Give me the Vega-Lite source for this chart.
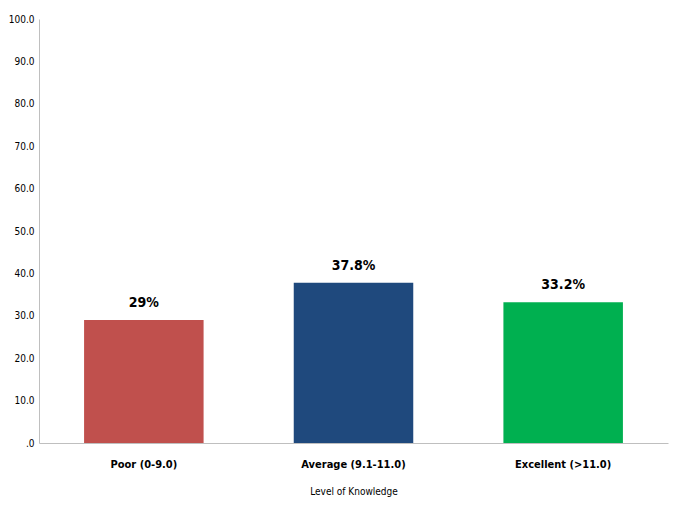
{
  "$schema": "https://vega.github.io/schema/vega-lite/v6.json",
  "width": 629,
  "height": 424,
  "padding": {"left": 8, "top": 14, "right": 12, "bottom": 5},
  "background": "white",
  "data": {
    "values": [
      {"level": "Poor (0-9.0)", "value": 29.0, "label": "29%"},
      {"level": "Average (9.1-11.0)", "value": 37.8, "label": "37.8%"},
      {"level": "Excellent (>11.0)", "value": 33.2, "label": "33.2%"}
    ]
  },
  "encoding": {
    "x": {
      "field": "level",
      "type": "nominal",
      "sort": null,
      "title": "Level of Knowledge",
      "scale": {"paddingInner": 0.43, "paddingOuter": 0.215},
      "axis": {
        "labelAngle": 0,
        "labelFont": "DejaVu Sans Condensed, Liberation Sans, sans-serif",
        "labelFontSize": 11,
        "labelFontWeight": "bold",
        "labelColor": "#000000",
        "labelPadding": 15,
        "ticks": false,
        "domainColor": "#bfbfbf",
        "titleFont": "DejaVu Sans Condensed, Liberation Sans, sans-serif",
        "titleFontSize": 10,
        "titleFontWeight": "normal",
        "titleColor": "#000000",
        "titlePadding": 17
      }
    },
    "y": {
      "field": "value",
      "type": "quantitative",
      "scale": {"domain": [0, 100]},
      "axis": {
        "title": null,
        "values": [0, 10, 20, 30, 40, 50, 60, 70, 80, 90, 100],
        "labelExpr": "datum.value == 0 ? '.0' : format(datum.value, '.1f')",
        "grid": false,
        "ticks": false,
        "labelFont": "DejaVu Sans Condensed, Liberation Sans, sans-serif",
        "labelFontSize": 10,
        "labelColor": "#000000",
        "labelPadding": 5,
        "domainColor": "#bfbfbf"
      }
    }
  },
  "layer": [
    {
      "mark": {"type": "bar"},
      "encoding": {
        "color": {
          "field": "level",
          "type": "nominal",
          "scale": {
            "domain": ["Poor (0-9.0)", "Average (9.1-11.0)", "Excellent (>11.0)"],
            "range": ["#C0504D", "#1F497D", "#00B050"]
          },
          "legend": null
        }
      }
    },
    {
      "mark": {
        "type": "text",
        "baseline": "bottom",
        "dy": -10,
        "font": "DejaVu Sans Condensed, Liberation Sans, sans-serif",
        "fontSize": 14,
        "fontWeight": "bold",
        "color": "#000000"
      },
      "encoding": {"text": {"field": "label"}}
    }
  ],
  "config": {"view": {"stroke": null}}
}
